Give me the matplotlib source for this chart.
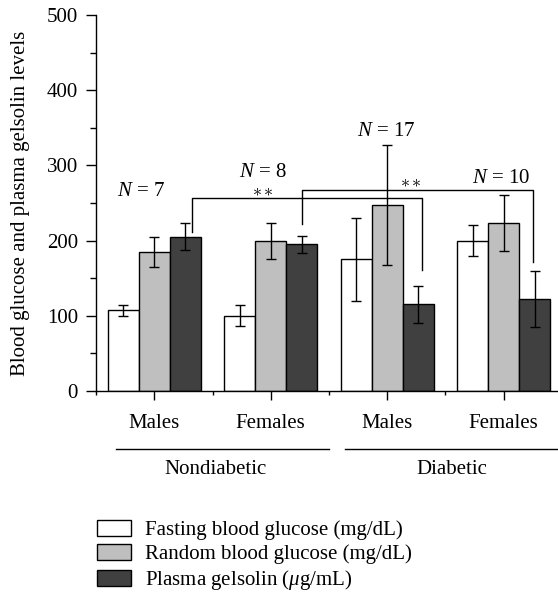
import matplotlib
matplotlib.use('Agg')
import matplotlib.pyplot as plt
import numpy as np

plt.rcParams['font.family'] = 'Liberation Serif'
plt.rcParams['font.size'] = 15
plt.rcParams['mathtext.fontset'] = 'custom'
plt.rcParams['mathtext.rm'] = 'Liberation Serif'
plt.rcParams['mathtext.it'] = 'Liberation Serif:italic'

# groups: nondiabetic males, nondiabetic females, diabetic males, diabetic females
sex_labels = ['Males', 'Females', 'Males', 'Females']
status_labels = ['Nondiabetic', 'Diabetic']
series_names = ['Fasting blood glucose (mg/dL)',
                'Random blood glucose (mg/dL)',
                'Plasma gelsolin ($\\mu$g/mL)']

fasting = [107, 100, 175, 200]
fasting_err = [7.5, 14, 55, 21]
random_bg = [185, 200, 247, 223]
random_err = [20, 24, 80, 37]
gelsolin = [205, 195, 115, 122]
gelsolin_err = [18, 11, 25, 37]

n_labels = ['$N$ = 7', '$N$ = 8', '$N$ = 17', '$N$ = 10']

colors = ['white', '#bfbfbf', '#404040']

fig = plt.figure(figsize=(5.58, 5.96), dpi=100)
ax = fig.add_axes([96 / 558, (596 - 390.7) / 596, 462 / 558, 375.4 / 596])

x = np.arange(1, 5)
w = 0.265
bars = []
for i, (vals, errs) in enumerate([(fasting, fasting_err), (random_bg, random_err), (gelsolin, gelsolin_err)]):
    b = ax.bar(x + (i - 1) * w, vals, w, color=colors[i], edgecolor='black', linewidth=1.0,
               yerr=errs, error_kw=dict(ecolor='black', elinewidth=1.0, capsize=3.5, capthick=1.0),
               zorder=2)
    bars.append(b)

ax.set_xlim(0.5, 0.5 + 462 / 116.5)
ax.set_ylim(0, 500)
ax.spines['top'].set_visible(False)
ax.spines['right'].set_visible(False)
ax.spines['left'].set_linewidth(1.0)
ax.spines['bottom'].set_linewidth(1.0)

ax.set_yticks(np.arange(0, 501, 100))
ax.set_yticks(np.arange(50, 500, 100), minor=True)
ax.set_xticks(x)
ax.set_xticklabels(sex_labels)
ax.set_xticks([0.5, 1.5, 2.5, 3.5], minor=True)
ax.tick_params(axis='y', which='major', direction='out', length=7, width=1.0, pad=6)
ax.tick_params(axis='y', which='minor', direction='out', length=4.5, width=1.0)
ax.tick_params(axis='x', which='major', direction='out', length=6.5, width=1.0, pad=10)
ax.tick_params(axis='x', which='minor', direction='out', length=3, width=1.0)
ax.set_ylabel('Blood glucose and plasma gelsolin levels', labelpad=12)

# N labels
n_pos = [(0.89, 265), (1.93, 290), (2.99, 345), (3.98, 282)]
for (nx, ny), lab in zip(n_pos, n_labels):
    ax.text(nx, ny, lab, ha='center', va='center')

# significance brackets
ax.plot([1.32, 1.32, 3.30, 3.30], [212, 256, 256, 161], color='black', lw=1.0, zorder=3)
ax.plot([2.27, 2.27, 4.25, 4.25], [222, 267, 267, 172], color='black', lw=1.0, zorder=3)
ax.text(1.93, 266, '$\\ast\\ast$', ha='center', va='center', fontsize=13)
ax.text(3.20, 278, '$\\ast\\ast$', ha='center', va='center', fontsize=13)

# group lines and labels under the axis
ax.plot([0.67, 2.5], [-77.6, -77.6], color='black', lw=1.0, clip_on=False)
ax.plot([2.64, 4.47], [-77.6, -77.6], color='black', lw=1.0, clip_on=False)
ax.text(1.53, -104.7, status_labels[0], ha='center', va='center')
ax.text(3.55, -104.7, status_labels[1], ha='center', va='center')

fig.legend(bars, series_names, loc='upper left', bbox_to_anchor=(97 / 558, 1 - 520 / 596),
           frameon=False, borderpad=0, borderaxespad=0, handlelength=1.65, handleheight=0.8,
           handletextpad=0.65, labelspacing=0.18)

fig.savefig('out.png', dpi=100)
